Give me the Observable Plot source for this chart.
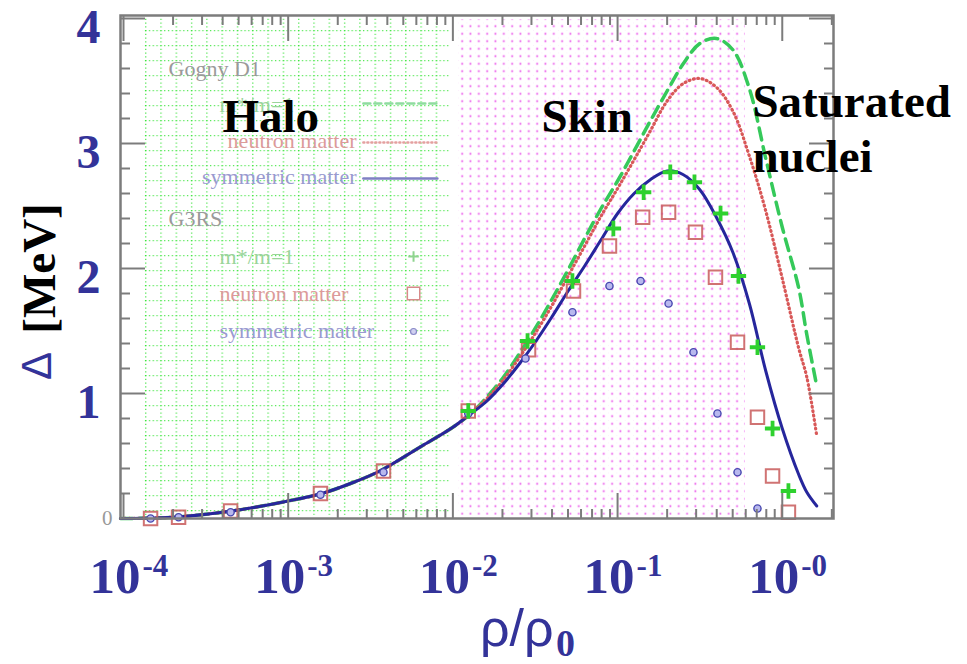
<!DOCTYPE html>
<html><head><meta charset="utf-8">
<script src="https://cdn.jsdelivr.net/npm/d3@7"></script>
<script src="https://cdn.jsdelivr.net/npm/@observablehq/plot@0.6"></script>
<style>html,body{margin:0;padding:0;background:#fff;} #chart svg{display:block;}</style>
</head><body><div id="chart"></div>
<script>
// ---------------- data ----------------
// density ρ/ρ0 sample points of the Gogny D1 curves
const rhoShared   = [9.6e-5, 2.0e-4, 4.0e-4, 6.3e-4, 1.0e-3, 1.6e-3, 2.5e-3, 3.6e-3, 6.3e-3, 1.0e-2, 1.26e-2];
const deltaShared = [0, 0.01, 0.05, 0.09, 0.14, 0.20, 0.29, 0.38, 0.57, 0.73, 0.83];
const rhoUpper = [0.0158, 0.02, 0.0251, 0.0316, 0.0398, 0.0501, 0.0631, 0.0794, 0.1, 0.126, 0.158, 0.2, 0.251, 0.316, 0.398, 0.501, 0.631, 0.794, 1.0, 1.26, 1.41, 1.62];
const gognyM1        = [0.96,1.12,1.31,1.52,1.75,1.99,2.24,2.48,2.70,2.94,3.18,3.42,3.64,3.80,3.84,3.75,3.44,2.88,2.33,1.84,1.47,1.06];
const gognyNeutron   = [0.95,1.10,1.28,1.48,1.70,1.94,2.18,2.42,2.64,2.87,3.10,3.34,3.48,3.52,3.45,3.26,2.90,2.46,1.92,1.36,1.13,0.66];
const gognySymmetric = [0.93,1.07,1.23,1.41,1.61,1.82,2.02,2.23,2.44,2.60,2.71,2.78,2.75,2.63,2.41,2.13,1.72,1.18,0.72,0.35,0.21,0.10];

// G3RS points
const g3rsNeutronRho   = [1.46e-4, 2.16e-4, 4.47e-4, 1.57e-3, 3.79e-3, 1.24e-2, 2.88e-2, 5.40e-2, 8.93e-2, 0.142, 0.204, 0.297, 0.393, 0.535, 0.707, 0.873, 1.09];
const g3rsNeutronDelta = [0.0, 0.01, 0.06, 0.20, 0.38, 0.86, 1.35, 1.82, 2.18, 2.41, 2.45, 2.29, 1.93, 1.41, 0.81, 0.34, 0.05];
const g3rsSymRho   = [1.46e-4, 2.16e-4, 4.47e-4, 1.57e-3, 3.79e-3, 1.24e-2, 2.76e-2, 5.32e-2, 8.93e-2, 0.138, 0.204, 0.289, 0.404, 0.535, 0.707];
const g3rsSymDelta = [0.0, 0.01, 0.05, 0.19, 0.37, 0.84, 1.28, 1.65, 1.86, 1.90, 1.72, 1.33, 0.84, 0.37, 0.08];
const g3rsM1Rho   = [1.24e-2, 2.84e-2, 5.32e-2, 9.43e-2, 0.144, 0.209, 0.293, 0.422, 0.542, 0.707, 0.873, 1.09];
const g3rsM1Delta = [0.86, 1.42, 1.90, 2.32, 2.61, 2.77, 2.69, 2.44, 1.94, 1.37, 0.72, 0.22];

// shaded regions (Halo / Skin)
const regionNames = ["Halo", "Skin"];
const regionRhoStart = [1.32e-4, 1.08e-2];
const regionRhoEnd   = [9.66e-3, 0.598];
const regionDeltaLow  = [0.025, 0.025];
const regionDeltaHigh = [4.0, 3.99];

// annotations
const noteLabels = ["Halo", "Skin", "Saturated", "nuclei"];
const noteRho    = [3.99e-4, 0.0345, 0.659, 0.659];
const noteDelta  = [3.096, 3.096, 3.216, 2.776];

// legend (faded, from the original figure)
const legendHeads = ["Gogny D1", "G3RS"];
const legendHeadRho = [1.876e-4, 1.876e-4];
const legendHeadDelta = [3.544, 2.344];
const legendLabels = ["m*/m=1", "neutron matter", "symmetric matter", "m*/m=1", "neutron matter", "symmetric matter"];
const legendColors = ["#9ad49a", "#dc9a9a", "#9a9ad0", "#9ad49a", "#dc9a9a", "#9a9ad0"];
const legendAnchorEnd = [false, true, true, false, false, false];
const legendRho = [3.83e-4, 2.60e-3, 2.60e-3, 3.83e-4, 3.83e-4, 3.83e-4];
const legendDelta = [3.25, 2.968, 2.68, 2.04, 1.744, 1.448];
const legendLineRho = [2.86e-3, 8.05e-3];
const legendLineDelta = [3.32, 3.008, 2.72];
const legendMarkRho = 5.77e-3;
const legendMarkDelta = [2.096, 1.80, 1.496];

// axes
const xDecades = [1e-4, 1e-3, 1e-2, 1e-1, 1];
const xExponents = ["-4", "-3", "-2", "-1", "-0"];
const xMinor = [2e-4,3e-4,4e-4,5e-4,6e-4,7e-4,8e-4,9e-4, 2e-3,3e-3,4e-3,5e-3,6e-3,7e-3,8e-3,9e-3,
                2e-2,3e-2,4e-2,5e-2,6e-2,7e-2,8e-2,9e-2, 0.2,0.3,0.4,0.5,0.6,0.7,0.8,0.9, 2];
const yMajor = [1, 2, 3, 4];
const yMinor = [0.2,0.4,0.6,0.8,1.2,1.4,1.6,1.8,2.2,2.4,2.6,2.8,3.2,3.4,3.6,3.8];
const yBigLabels = [4, 3, 2, 1];

// ---------------- build ----------------
const rows = (xs, ys) => xs.map((x, i) => ({rho: x, delta: ys[i]}));
const curveM1 = rows(rhoShared.concat(rhoUpper), deltaShared.concat(gognyM1));
const curveN  = rows(rhoShared.concat(rhoUpper), deltaShared.concat(gognyNeutron));
const curveS  = rows(rhoShared.concat(rhoUpper), deltaShared.concat(gognySymmetric));
const ptsN = rows(g3rsNeutronRho, g3rsNeutronDelta);
const ptsS = rows(g3rsSymRho, g3rsSymDelta);
const ptsM = rows(g3rsM1Rho, g3rsM1Delta);
const regions = regionNames.map((n, i) => ({name: n, x1: regionRhoStart[i], x2: regionRhoEnd[i], y1: regionDeltaLow[i], y2: regionDeltaHigh[i]}));
const notes = noteLabels.map((t, i) => ({t, rho: noteRho[i], delta: noteDelta[i]}));
const heads = legendHeads.map((t, i) => ({t, rho: legendHeadRho[i], delta: legendHeadDelta[i]}));
const legend = legendLabels.map((t, i) => ({t, c: legendColors[i], end: legendAnchorEnd[i], rho: legendRho[i], delta: legendDelta[i]}));
const seg = (d) => [{rho: legendLineRho[0], delta: d}, {rho: legendLineRho[1], delta: d}];

const blueInk = "#333399";
const serif = "'Liberation Serif', 'Times New Roman', serif";
const axisCol = "#7c7c7c";

const svg = Plot.plot({
  width: 967, height: 664,
  marginLeft: 120, marginRight: 134, marginTop: 15, marginBottom: 146,
  x: {type: "log", domain: [9.59e-5, 2.047]},
  y: {domain: [0, 4.024]},
  style: {background: "white", fontFamily: serif},
  marks: [
    Plot.rect(regions.filter(d => d.name === "Halo"), {x1: "x1", x2: "x2", y1: "y1", y2: "y2", fill: "url(#greenGrid)"}),
    Plot.rect(regions.filter(d => d.name === "Skin"), {x1: "x1", x2: "x2", y1: "y1", y2: "y2", fill: "url(#pinkDots)"}),

    // faded legend of the original figure
    Plot.text(heads, {x: "rho", y: "delta", text: "t", textAnchor: "start", lineAnchor: "bottom", fontSize: 22, fill: "#9a9a9a"}),
    Plot.text(legend.filter(d => !d.end), {x: "rho", y: "delta", text: "t", fill: "c", textAnchor: "start", lineAnchor: "bottom", fontSize: 22}),
    Plot.text(legend.filter(d => d.end), {x: "rho", y: "delta", text: "t", fill: "c", textAnchor: "end", lineAnchor: "bottom", fontSize: 22}),
    Plot.line(seg(legendLineDelta[0]), {x: "rho", y: "delta", stroke: "#8fdc9f", strokeWidth: 2.5, strokeDasharray: "7 4"}),
    Plot.line(seg(legendLineDelta[1]), {x: "rho", y: "delta", stroke: "#e4a0a0", strokeWidth: 2.5, strokeDasharray: "1 3", strokeLinecap: "round"}),
    Plot.line(seg(legendLineDelta[2]), {x: "rho", y: "delta", stroke: "#8080c4", strokeWidth: 2.5}),
    Plot.dot([{rho: legendMarkRho, delta: legendMarkDelta[0]}], {x: "rho", y: "delta", symbol: "plus", r: 3.5, stroke: "#8fd48f", strokeWidth: 2}),
    Plot.dot([{rho: legendMarkRho, delta: legendMarkDelta[1]}], {x: "rho", y: "delta", symbol: "square", r: 7, stroke: "#d88a8a", strokeWidth: 1.5, fill: "none"}),
    Plot.dot([{rho: legendMarkRho, delta: legendMarkDelta[2]}], {x: "rho", y: "delta", symbol: "circle", r: 3, stroke: "#8a8ac8", strokeWidth: 1.2, fill: "#d0d0f0"}),

    // Gogny D1 curves
    Plot.line(curveM1, {x: "rho", y: "delta", stroke: "#35c95a", strokeWidth: 3.5, strokeDasharray: "12 7", curve: "catmull-rom"}),
    Plot.line(curveN, {x: "rho", y: "delta", stroke: "#d85858", strokeWidth: 3.2, strokeDasharray: "0.8 3.6", strokeLinecap: "round", curve: "catmull-rom"}),
    Plot.line(curveS, {x: "rho", y: "delta", stroke: "#26269c", strokeWidth: 3, curve: "catmull-rom"}),

    // G3RS points
    Plot.dot(ptsN, {x: "rho", y: "delta", symbol: "square", r: 7.6, stroke: "#c85a5a", strokeOpacity: 0.85, strokeWidth: 2, fill: "none"}),
    Plot.dot(ptsS, {x: "rho", y: "delta", symbol: "circle", r: 3.6, stroke: "#4848b0", strokeWidth: 1.4, fill: "#b8b8ee"}),
    Plot.dot(ptsM, {x: "rho", y: "delta", symbol: "plus", r: 5, stroke: "#2ed12e", strokeWidth: 3.8}),

    // frame and inward ticks
    Plot.frame({stroke: axisCol, strokeWidth: 2.5}),
    Plot.axisY(yMajor, {anchor: "left", tickSize: -25, stroke: axisCol, strokeWidth: 2, fill: "none"}),
    Plot.axisY(yMinor, {anchor: "left", tickSize: -10, stroke: axisCol, strokeWidth: 2, fill: "none"}),
    Plot.axisY(yMajor, {anchor: "right", tickSize: -25, stroke: axisCol, strokeWidth: 2, fill: "none"}),
    Plot.axisY(yMinor, {anchor: "right", tickSize: -10, stroke: axisCol, strokeWidth: 2, fill: "none"}),
    Plot.axisX(xDecades, {anchor: "bottom", tickSize: -25, stroke: axisCol, strokeWidth: 2, fill: "none"}),
    Plot.axisX(xMinor, {anchor: "bottom", tickSize: -9, stroke: axisCol, strokeWidth: 2, fill: "none"}),
    Plot.axisX(xDecades, {anchor: "top", tickSize: -25, stroke: axisCol, strokeWidth: 2, fill: "none"}),
    Plot.axisX(xMinor, {anchor: "top", tickSize: -9, stroke: axisCol, strokeWidth: 2, fill: "none"}),

    // small original zero label
    Plot.text([0], {y: d => d, frameAnchor: "left", dx: -8, text: () => "0", textAnchor: "end", lineAnchor: "middle", fontSize: 21, fill: "#999"}),

    // big overlay tick labels
    Plot.text(yBigLabels, {y: d => d, frameAnchor: "left", dx: -20, dy: 9, text: d => String(d), textAnchor: "end", lineAnchor: "middle", fontSize: 48, fontWeight: "bold", fill: blueInk}),
    Plot.text(xDecades, {x: d => d, frameAnchor: "bottom", dx: 17, dy: 74, text: () => "10", textAnchor: "end", lineAnchor: "bottom", fontSize: 51, fontWeight: "bold", fill: blueInk}),
    Plot.text(xDecades, {x: d => d, frameAnchor: "bottom", dx: 19, dy: 57, text: (d, i) => xExponents[i], textAnchor: "start", lineAnchor: "bottom", fontSize: 31, fontWeight: "bold", fill: blueInk}),

    // axis titles
    Plot.text(["ρ/ρ"], {frameAnchor: "bottom", dx: 76.5, dy: 127, text: d => d, textAnchor: "end", lineAnchor: "bottom", fontFamily: "'Liberation Sans', Arial, sans-serif", fontSize: 52, fill: blueInk}),
    Plot.text(["0"], {frameAnchor: "bottom", dx: 79, dy: 137, text: d => d, textAnchor: "start", lineAnchor: "bottom", fontSize: 38, fontWeight: "bold", fill: blueInk}),
    Plot.text(["[MeV]"], {y: () => 2.0, frameAnchor: "left", dx: -81, rotate: -90, text: d => d, textAnchor: "middle", lineAnchor: "middle", fontSize: 47, fontWeight: "bold", fill: "black"}),
    Plot.text(["Δ"], {y: () => 1.22, frameAnchor: "left", dx: -83, rotate: -90, text: d => d, textAnchor: "middle", lineAnchor: "middle", fontFamily: "'Liberation Sans', Arial, sans-serif", fontSize: 42, fill: blueInk}),

    // region annotations
    Plot.text(notes, {x: "rho", y: "delta", text: "t", textAnchor: "start", lineAnchor: "bottom", fontSize: 47, fontWeight: "bold", fill: "black"})
  ]
});

const ns = "http://www.w3.org/2000/svg";
const defs = document.createElementNS(ns, "defs");
defs.innerHTML = `
<pattern id="greenGrid" patternUnits="userSpaceOnUse" x="145" y="0" width="15.3" height="15">
  <path d="M0,0.7H15.3" stroke="#2fe22f" stroke-opacity="0.8" stroke-width="1.3" stroke-dasharray="1.3 2.5" fill="none"/>
  <path d="M0.7,0V15" stroke="#2fe22f" stroke-opacity="0.8" stroke-width="1.3" stroke-dasharray="1.3 2.45" fill="none"/>
</pattern>
<pattern id="pinkDots" patternUnits="userSpaceOnUse" x="0" y="0" width="8.33" height="7.5">
  <circle cx="4" cy="3.7" r="1.5" fill="#fbcdfb"/>
  <circle cx="4" cy="3.7" r="0.75" fill="#e64ae6"/>
  <circle cx="0.2" cy="0" r="0.8" fill="#fde6fd"/>
</pattern>`;
svg.insertBefore(defs, svg.firstChild);
document.getElementById("chart").appendChild(svg);
</script>
</body></html>
